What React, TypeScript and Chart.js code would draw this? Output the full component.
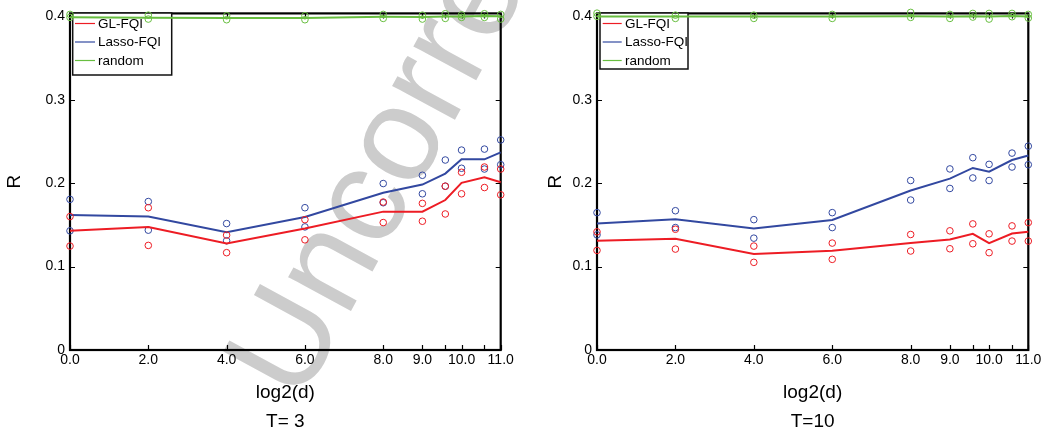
import React, { useEffect, useRef } from "react";
import { Chart, registerables } from "chart.js";
Chart.register(...registerables);

// ---------------- data ----------------
const XS = [0, 2, 4, 6, 8, 9, 9.585, 10, 10.585, 11];
const X_TICKS = [0, 2, 4, 6, 8, 9, 9.585, 10, 10.585, 11];
const X_LABELED = [0, 2, 4, 6, 8, 9, 10, 11];
const Y_TICKS = [0, 0.1, 0.2, 0.3, 0.4];
const SERIES_NAMES = ["GL-FQI", "Lasso-FQI", "random"];
const PANEL_TITLES = ["T= 3", "T=10"];
const X_TITLE = "log2(d)";
const Y_TITLE = "R";
const WATERMARK = "Uncorrected Proof";

// T = 3
const T3_GL_MEAN = [0.143, 0.1476, 0.1278, 0.1456, 0.1659, 0.1659, 0.1798, 0.2004, 0.2071, 0.2012];
const T3_GL_HI = [0.160, 0.1706, 0.1377, 0.1563, 0.1774, 0.1758, 0.1964, 0.2131, 0.2194, 0.217];
const T3_GL_LO = [0.1246, 0.1254, 0.1167, 0.1321, 0.1528, 0.1544, 0.1631, 0.1873, 0.1948, 0.1861];
const T3_LASSO_MEAN = [0.162, 0.160, 0.1413, 0.1595, 0.1885, 0.1984, 0.2115, 0.2286, 0.2286, 0.2369];
const T3_LASSO_HI = [0.1806, 0.178, 0.1516, 0.1706, 0.1996, 0.2095, 0.2278, 0.2397, 0.2409, 0.2519];
const T3_LASSO_LO = [0.1429, 0.1437, 0.131, 0.1476, 0.1766, 0.1873, 0.1964, 0.2179, 0.217, 0.2222];
const T3_RAND_MEAN = [0.399, 0.3985, 0.398, 0.3982, 0.3995, 0.3992, 0.4, 0.4, 0.4005, 0.4002];
const T3_RAND_HI = [0.4024, 0.4015, 0.4008, 0.4008, 0.4024, 0.4015, 0.4032, 0.4018, 0.4032, 0.4024];
const T3_RAND_LO = [0.3988, 0.3968, 0.396, 0.396, 0.3976, 0.3968, 0.3976, 0.3988, 0.3988, 0.3968];

// T = 10
const T10_GL_MEAN = [0.131, 0.1333, 0.1151, 0.119, 0.1282, 0.1325, 0.1393, 0.1282, 0.1397, 0.1417];
const T10_GL_HI = [0.1417, 0.1448, 0.1246, 0.1282, 0.1385, 0.1429, 0.1512, 0.1393, 0.1488, 0.1528];
const T10_GL_LO = [0.1194, 0.121, 0.1051, 0.1087, 0.1187, 0.1214, 0.1274, 0.1167, 0.1306, 0.1306];
const T10_LASSO_MEAN = [0.1516, 0.1567, 0.1456, 0.156, 0.1913, 0.2055, 0.2183, 0.2139, 0.2278, 0.2333];
const T10_LASSO_HI = [0.1647, 0.167, 0.1563, 0.1647, 0.2032, 0.2171, 0.2306, 0.2226, 0.2361, 0.2444];
const T10_LASSO_LO = [0.1381, 0.1468, 0.1341, 0.1468, 0.1798, 0.1937, 0.2063, 0.2032, 0.2194, 0.2222];
const T10_RAND_MEAN = [0.4, 0.4, 0.4, 0.4, 0.4003, 0.4, 0.4003, 0.4, 0.4005, 0.4];
const T10_RAND_HI = [0.4039, 0.4015, 0.4015, 0.4024, 0.4048, 0.4024, 0.4036, 0.4036, 0.4036, 0.4024];
const T10_RAND_LO = [0.4, 0.3976, 0.3976, 0.3976, 0.3988, 0.3976, 0.3992, 0.3968, 0.3996, 0.398];

// ---------------- style ----------------
const COLORS = ["rgb(237,28,36)", "rgb(50,72,160)", "rgb(104,190,64)"];
const FONT = "'Liberation Sans', Arial, Helvetica, sans-serif";
const CANVAS_W = 524;
const CANVAS_H = 440;

const PANEL_STYLES = [
  {
    left: 0,
    yAxisWidth: 70,
    padRight: 23.3,
    yTitlePad: 3.6,
    legend: { x: 72.7, y: 13, w: 99, h: 62, l0: 75, l1: 95, tx: 98, rows: [23.5, 42, 60.5] },
    watermark: true,
  },
  {
    left: 524,
    yAxisWidth: 73,
    padRight: 19.7,
    yTitlePad: 20.6,
    legend: { x: 76, y: 13, w: 88, h: 56, l0: 78.7, l1: 97.7, tx: 101, rows: [23.5, 42, 60.5] },
    watermark: false,
  },
];

const PANEL_SERIES = [
  [
    [T3_GL_MEAN, T3_GL_HI, T3_GL_LO],
    [T3_LASSO_MEAN, T3_LASSO_HI, T3_LASSO_LO],
    [T3_RAND_MEAN, T3_RAND_HI, T3_RAND_LO],
  ],
  [
    [T10_GL_MEAN, T10_GL_HI, T10_GL_LO],
    [T10_LASSO_MEAN, T10_LASSO_HI, T10_LASSO_LO],
    [T10_RAND_MEAN, T10_RAND_HI, T10_RAND_LO],
  ],
];

const toPts = (arr: number[]) => XS.map((x, i) => ({ x, y: arr[i] }));

function buildDatasets(series: number[][][]) {
  const ds: any[] = [];
  series.forEach((s, k) => {
    const color = COLORS[k];
    ds.push({
      label: SERIES_NAMES[k],
      data: toPts(s[0]),
      borderColor: color,
      backgroundColor: color,
      borderWidth: 2,
      pointRadius: 0,
      tension: 0,
      fill: false,
      clip: false,
      inLegend: true,
    });
    for (const arr of [s[1], s[2]]) {
      ds.push({
        label: SERIES_NAMES[k] + " runs",
        data: toPts(arr),
        showLine: false,
        borderColor: color,
        pointBorderColor: color,
        pointBackgroundColor: "rgba(0,0,0,0)",
        pointRadius: 3.3,
        pointBorderWidth: 1,
        pointStyle: "circle",
        clip: false,
        inLegend: false,
      });
    }
  });
  return ds;
}

const framePlugin = {
  id: "frameTicks",
  beforeDraw(chart: any, _a: any, opts: any) {
    if (!opts.watermark) return;
    const ctx = chart.ctx;
    ctx.save();
    ctx.translate(300, 405);
    ctx.rotate((-61.5 * Math.PI) / 180);
    ctx.font = `135px ${FONT}`;
    ctx.fillStyle = "rgb(204,204,204)";
    ctx.textBaseline = "alphabetic";
    ctx.textAlign = "left";
    ctx.fillText(WATERMARK, 0, 0);
    ctx.restore();
  },
  beforeDatasetsDraw(chart: any, _a: any, opts: any) {
    const ctx = chart.ctx;
    const { left, right, top, bottom } = chart.chartArea;
    const xs = chart.scales.x;
    const ys = chart.scales.y;
    ctx.save();
    // ticks inward on all four sides
    ctx.strokeStyle = "#000";
    ctx.lineWidth = 1.2;
    const tl = 5;
    ctx.beginPath();
    for (const v of Y_TICKS) {
      const py = Math.round(ys.getPixelForValue(v)) + 0.5;
      ctx.moveTo(left, py);
      ctx.lineTo(left + tl, py);
      ctx.moveTo(right, py);
      ctx.lineTo(right - tl, py);
    }
    for (const v of X_TICKS) {
      const px = Math.round(xs.getPixelForValue(v)) + 0.5;
      ctx.moveTo(px, bottom);
      ctx.lineTo(px, bottom - tl);
      ctx.moveTo(px, top);
      ctx.lineTo(px, top + tl);
    }
    ctx.stroke();
    // frame
    ctx.lineWidth = 2.2;
    ctx.strokeRect(left, top, right - left, bottom - top);

    // legend box
    const L = opts.legend;
    ctx.fillStyle = "#fff";
    ctx.fillRect(L.x, L.y, L.w, L.h);
    ctx.lineWidth = 1.5;
    ctx.strokeStyle = "#111";
    ctx.strokeRect(L.x, L.y, L.w, L.h);
    const items = chart.data.datasets.filter((d: any) => d.inLegend);
    ctx.font = `13.5px ${FONT}`;
    ctx.textBaseline = "middle";
    ctx.textAlign = "left";
    items.forEach((d: any, i: number) => {
      const yy = L.rows[i];
      ctx.strokeStyle = d.borderColor;
      ctx.lineWidth = 1.2;
      ctx.beginPath();
      ctx.moveTo(L.l0, yy);
      ctx.lineTo(L.l1, yy);
      ctx.stroke();
      ctx.fillStyle = "#000";
      ctx.fillText(d.label, L.tx, yy + 0.5);
    });
    ctx.restore();
  },
};

function Panel({ index }: { index: number }) {
  const ref = useRef<HTMLCanvasElement | null>(null);
  useEffect(() => {
    const st = PANEL_STYLES[index];
    const chart = new Chart(ref.current as HTMLCanvasElement, {
      type: "line",
      data: { datasets: buildDatasets(PANEL_SERIES[index]) },
      plugins: [framePlugin],
      options: {
        animation: false,
        responsive: false,
        devicePixelRatio: 1,
        events: [],
        layout: { padding: { left: 0, top: 11, right: st.padRight, bottom: 0 } },
        plugins: {
          legend: { display: false },
          tooltip: { enabled: false },
          title: { display: false },
          frameTicks: { legend: st.legend, watermark: st.watermark },
        } as any,
        scales: {
          x: {
            type: "linear",
            min: 0,
            max: 11,
            grid: { display: false, drawTicks: false },
            border: { display: false },
            afterBuildTicks: (s: any) => {
              s.ticks = X_TICKS.map((v) => ({ value: v }));
            },
            afterFit: (s: any) => {
              s.height = 90;
            },
            ticks: {
              autoSkip: false,
              maxRotation: 0,
              padding: 2,
              color: "#000",
              font: { family: FONT, size: 14 },
              callback: (v: any) => (X_LABELED.includes(Number(v)) ? Number(v).toFixed(1) : ""),
            },
            title: {
              display: true,
              text: [X_TITLE, PANEL_TITLES[index]],
              color: "#000",
              font: { family: FONT, size: 19, lineHeight: 29 / 19 },
              padding: { top: 0, bottom: 3.5 },
            },
          },
          y: {
            type: "linear",
            min: 0,
            max: 0.4036,
            grid: { display: false, drawTicks: false },
            border: { display: false },
            afterBuildTicks: (s: any) => {
              s.ticks = Y_TICKS.map((v) => ({ value: v }));
            },
            afterFit: (s: any) => {
              s.width = st.yAxisWidth;
            },
            ticks: {
              padding: 5,
              color: "#000",
              font: { family: FONT, size: 14 },
              callback: (v: any) => (Number(v) === 0 ? "0" : Number(v).toFixed(1)),
            },
            title: {
              display: true,
              text: Y_TITLE,
              color: "#000",
              font: { family: FONT, size: 19 },
              padding: { top: st.yTitlePad, bottom: 0 },
            },
          },
        },
      } as any,
    });
    return () => chart.destroy();
  }, [index]);
  const st = PANEL_STYLES[index];
  return (
    <canvas
      ref={ref}
      width={CANVAS_W}
      height={CANVAS_H}
      style={{ position: "absolute", left: st.left, top: 0, width: CANVAS_W, height: CANVAS_H }}
    />
  );
}

export default function App() {
  return (
    <div
      style={{
        position: "absolute",
        left: 0,
        top: 0,
        width: 1048,
        height: 430,
        overflow: "hidden",
        background: "#fff",
      }}
    >
      <Panel index={0} />
      <Panel index={1} />
    </div>
  );
}
